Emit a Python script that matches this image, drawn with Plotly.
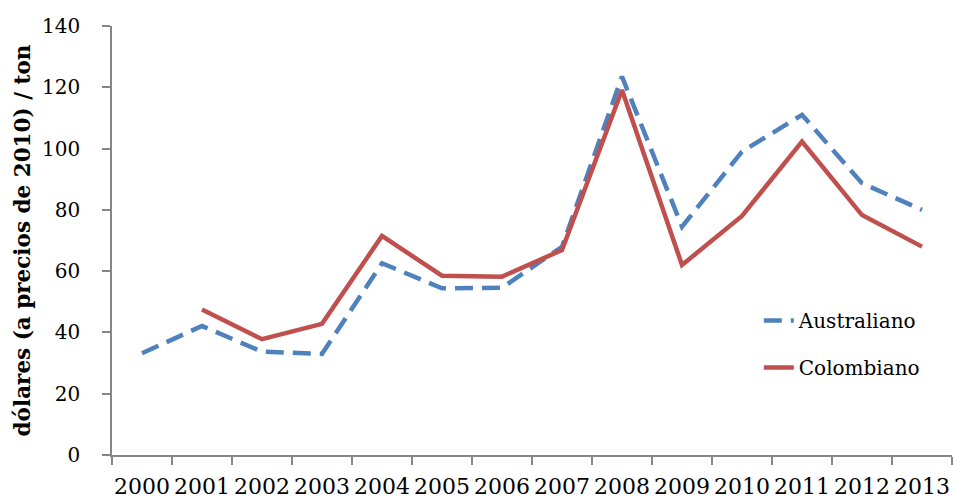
import plotly.graph_objects as go

years = [str(y) for y in range(2000, 2014)]

australiano = [33.2, 42.1, 33.7, 33.0, 62.6, 54.4, 54.6, 67.9, 123.5, 74.5, 99.0, 111.0, 88.7, 80.0]
colombiano = [None, 47.5, 37.8, 42.8, 71.5, 58.5, 58.2, 66.9, 119.1, 62.0, 78.0, 102.3, 78.3, 68.0]

y_ticks = [0, 20, 40, 60, 80, 100, 120, 140]

BLUE = "#4F81BD"
RED = "#C0504D"
AXIS = "#868686"
FONT = "DejaVu Serif"

fig = go.Figure()
fig.add_trace(go.Scatter(
    x=years, y=australiano, name="Australiano", mode="lines",
    line=dict(color=BLUE, width=4.5, dash="18px,9px"),
    legendgroup="a",
))
fig.add_trace(go.Scatter(
    x=years, y=colombiano, name="Colombiano", mode="lines",
    line=dict(color=RED, width=4.5),
    connectgaps=False, legendgroup="c",
))

fig.update_layout(
    width=953, height=500,
    margin=dict(l=112, r=1, t=26, b=45),
    paper_bgcolor="white", plot_bgcolor="white",
    font=dict(family=FONT, size=20, color="black"),
    showlegend=True,
    legend=dict(
        x=0.770, y=0.359, xanchor="left", yanchor="top",
        bgcolor="rgba(0,0,0,0)", font=dict(family=FONT, size=20),
        traceorder="grouped", tracegroupgap=18,
    ),
    xaxis=dict(
        type="category", range=[-0.5, 13.5], automargin=False,
        showline=True, linecolor=AXIS, linewidth=1.5,
        ticks="outside", tickson="boundaries", ticklen=8, tickcolor=AXIS, tickwidth=1.5,
        showgrid=False, zeroline=False, tickangle=0,
        tickfont=dict(family=FONT, size=22),
        ticklabelstandoff=11,
    ),
    yaxis=dict(
        range=[0, 140], tickvals=y_ticks, automargin=False,
        showline=True, linecolor=AXIS, linewidth=1.5,
        ticks="outside", ticklen=8, tickcolor=AXIS, tickwidth=1.5,
        showgrid=False, zeroline=False,
        tickfont=dict(family=FONT, size=20),
        ticklabelstandoff=18,
        title=dict(text="<b>dólares (a precios de 2010) / ton</b>",
                   font=dict(family=FONT, size=21.5), standoff=6),
    ),
)

fig.write_html("out.html")
